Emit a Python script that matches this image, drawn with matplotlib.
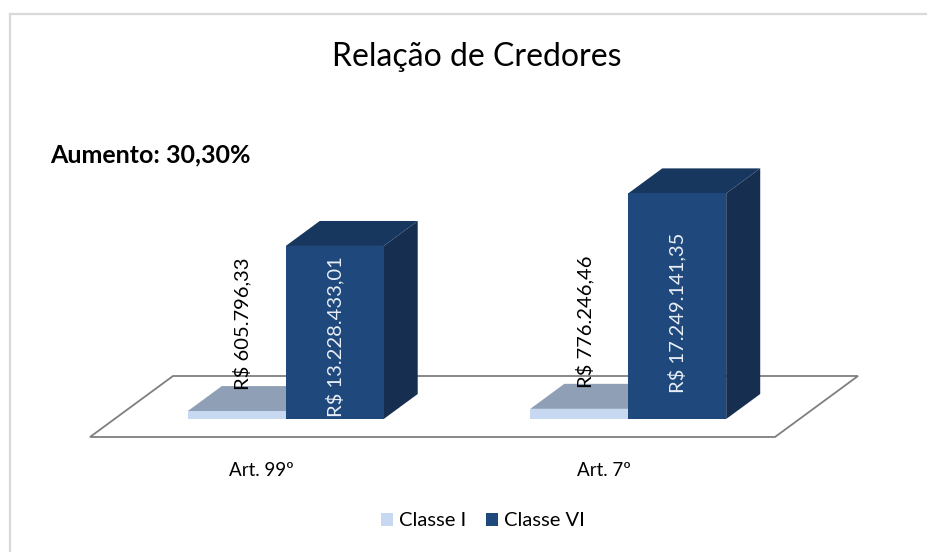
import matplotlib
matplotlib.use("Agg")
import matplotlib.pyplot as plt
from matplotlib.patches import Polygon, Patch
from matplotlib.lines import Line2D

plt.rcParams['font.family'] = ['Lato', 'DejaVu Sans']

# dados
categorias = ["Art. 99º", "Art. 7º"]
series = ["Classe I", "Classe VI"]
classe_i = [605796.33, 776246.46]
classe_vi = [13228433.01, 17249141.35]
titulo = "Relação de Credores"
destaque = "Aumento: 30,30%"


def brl(v):
    s = f"{v:,.2f}".replace(",", "X").replace(".", ",").replace("X", ".")
    return "R$ " + s


# cores (estilo 3D do Excel)
cor_i = {"front": "#C6D9F1", "top": "#8FA0B6", "side": "#7F93AC"}
cor_vi = {"front": "#1F497D", "top": "#18375E", "side": "#162E50"}

fig = plt.figure(figsize=(9.28, 5.52), dpi=100)
ax = fig.add_axes([0, 0, 1, 1])
ax.axis('off')

# escala: unidades de categoria em x, reais em y
px_cat = 342.5          # pixels por categoria
px_val = 13.08e-6       # pixels por real
x0_px, y0_px = 90, 437  # canto frontal esquerdo do piso
ax.set_xlim(-x0_px / px_cat, (928 - x0_px) / px_cat)
ax.set_ylim((y0_px - 552) / px_val, y0_px / px_val)

# projecao obliqua da profundidade
DX = 83 / px_cat
DY = 61 / px_val


def P(x, v, z):
    return (x + z * DX, v + z * DY)


def caixa(x0, x1, v, z0, z1, cores):
    frente = [P(x0, 0, z0), P(x1, 0, z0), P(x1, v, z0), P(x0, v, z0)]
    topo = [P(x0, v, z0), P(x1, v, z0), P(x1, v, z1), P(x0, v, z1)]
    lado = [P(x1, 0, z0), P(x1, 0, z1), P(x1, v, z1), P(x1, v, z0)]
    ax.add_patch(Polygon(lado, closed=True, fc=cores["side"], ec='none'))
    ax.add_patch(Polygon(topo, closed=True, fc=cores["top"], ec='none'))
    ax.add_patch(Polygon(frente, closed=True, fc=cores["front"], ec='none'))


# piso
n = len(categorias)
piso = [P(0, 0, 0), P(n, 0, 0), P(n, 0, 1), P(0, 0, 1)]
ax.add_patch(Polygon(piso, closed=True, fc='white', ec='#7F7F7F', lw=1.3))

w = 0.286
z0, z1 = 18 / 61, 43 / 61
for i, cat in enumerate(categorias):
    c = i + 0.5
    caixa(c - w, c, classe_i[i], z0, z1, cor_i)
    caixa(c, c + w, classe_vi[i], z0, z1, cor_vi)

    # rotulos
    ax.annotate(brl(classe_i[i]), P(c - w / 2, classe_i[i], z0),
                xytext=(4, 15), textcoords='offset points',
                rotation=90, ha='center', va='bottom', fontsize=14.5, color='black')
    ax.annotate(brl(classe_vi[i]), P(c + w / 2, classe_vi[i] / 2, z0),
                xytext=(0, -3 - 2 * i), textcoords='offset points',
                rotation=90, ha='center', va='center', fontsize=14.5, color='#E8EEF6')
    ax.annotate(cat, P(c, 0, 0), xytext=(0, -24), textcoords='offset points',
                ha='center', va='center', fontsize=13.5, color='black')

fig.text(477 / 928, 1 - 57 / 552, titulo, ha='center', va='center', fontsize=23)
fig.text(50 / 928, 1 - 155 / 552, destaque, ha='left', va='center',
         fontsize=18, fontweight='bold')

handles = [Patch(fc=cor_i["front"], ec='none'), Patch(fc=cor_vi["front"], ec='none')]
fig.legend(handles, series, loc='center', bbox_to_anchor=(483 / 928, 1 - 521 / 552),
           ncol=2, frameon=False, fontsize=14.5, handlelength=0.6, handleheight=0.6,
           handletextpad=0.3, columnspacing=1.0)

# moldura do grafico
fig.add_artist(Line2D([10.5 / 928, 1], [1 - 14 / 552, 1 - 14 / 552], color='#D9D9D9', lw=1.6))
fig.add_artist(Line2D([10.5 / 928, 10.5 / 928], [0, 1 - 14 / 552], color='#D9D9D9', lw=1.6))

fig.savefig("out.png", dpi=100)
